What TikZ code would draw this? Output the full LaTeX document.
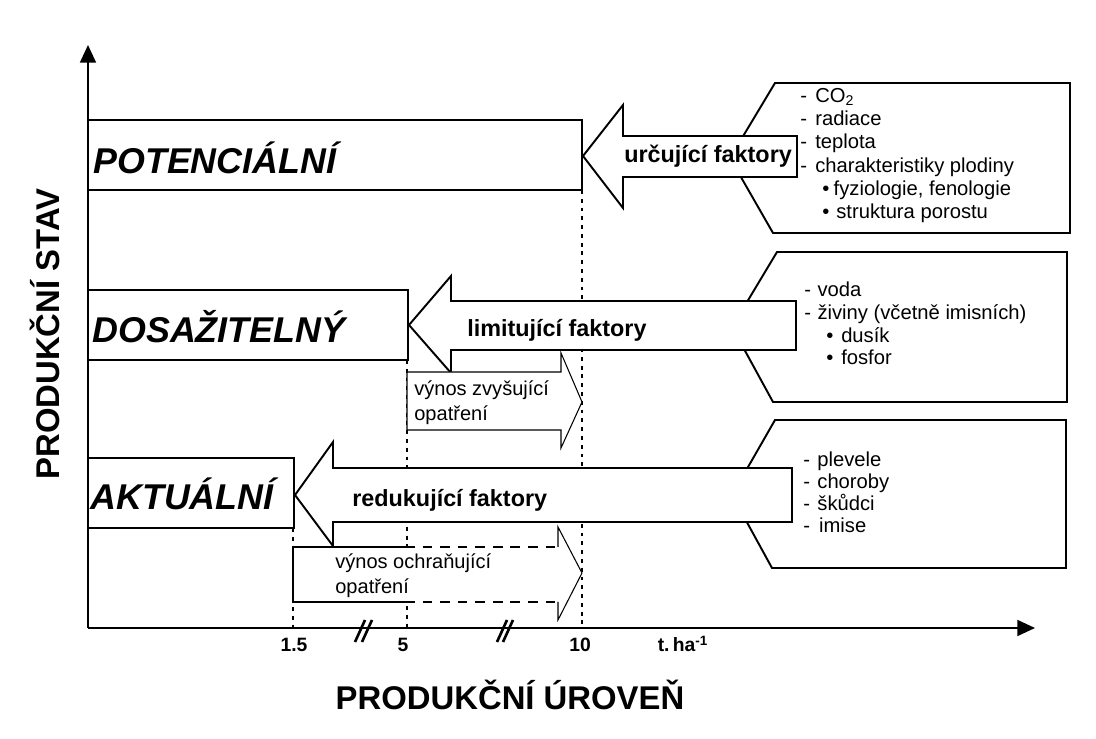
\documentclass[tikz,border=0pt]{standalone}
\usepackage{fontspec}
\setmainfont{Liberation Sans}
\usetikzlibrary{arrows.meta}

\begin{document}
\begin{tikzpicture}
		[x=0.02cm,y=-0.02cm,line join=miter,
		%Styles
		main axis/.style={line width=1.1pt,-{Triangle[length=10pt,width=9pt]}},
		state box/.style={line width=1.1pt,fill=white},
		factor arrow/.style={line width=1.1pt,fill=white},
		yield arrow/.style={line width=0.6pt},
		level line/.style={line width=1.1pt,dash pattern=on 2.2pt off 2.8pt},
		break mark/.style={line width=1.5pt},
		state text/.style={inner sep=0pt,anchor=base west,font=\fontsize{20.4}{24}\selectfont\bfseries\itshape},
		factor text/.style={inner sep=0pt,anchor=base west,font=\fontsize{13.3}{16}\selectfont\bfseries},
		yield text/.style={inner sep=0pt,anchor=north west,align=left,font=\fontsize{11.4}{14.2}\selectfont},
		list text/.style={inner sep=0pt,anchor=north west,align=left,font=\fontsize{11.5}{#1}\selectfont},
		tick text/.style={inner sep=0pt,anchor=base,font=\fontsize{11}{13}\selectfont\bfseries},
		title text/.style={inner sep=0pt,anchor=base,font=\fontsize{18.7}{22}\selectfont\bfseries}
		]
		\useasboundingbox (0,0) rectangle (1096,739);
		
		%Factor lists
		\draw[state box] (730,158) -- (775,83) -- (1070,83) -- (1070,233) -- (773,233) -- cycle;
		\draw[state box] (732,327) -- (777,252) -- (1067,252) -- (1067,402) -- (773,402) -- cycle;
		\draw[state box] (732,495) -- (775,420) -- (1066,420) -- (1066,568) -- (772,568) -- cycle;
		\node[list text=13.2pt] (list1) at (800,88) {\makebox[8.5pt][l]{-}CO\textsubscript{2}\\
			\makebox[8.5pt][l]{-}radiace\\
			\makebox[8.5pt][l]{-}teplota\\
			\makebox[8.5pt][l]{-}charakteristiky plodiny\\
			\hspace*{12.5pt}\makebox[6.5pt][l]{\textbullet}fyziologie, fenologie\\
			\hspace*{12.5pt}\makebox[8pt][l]{\textbullet}struktura porostu};
		\node[list text=12.9pt] (list2) at (804,282) {\makebox[7.5pt][l]{-}voda\\
			\makebox[7.5pt][l]{-}živiny (včetně imisních)\\
			\hspace*{12.5pt}\makebox[8.5pt][l]{\textbullet}dusík\\
			\hspace*{12.5pt}\makebox[8.5pt][l]{\textbullet}fosfor};
		\node[list text=12.4pt] (list3) at (803,452) {\makebox[8pt][l]{-}plevele\\
			\makebox[8pt][l]{-}choroby\\
			\makebox[8pt][l]{-}škůdci\\
			\makebox[9pt][l]{-}imise};
		
		%Production levels
		\draw[level line] (582,190) -- (582,628);
		\draw[level line] (407,360) -- (407,628);
		\draw[level line] (293,528) -- (293,628);
		
		%Factor arrows
		\draw[factor arrow] (583,156) -- (623,105) -- (623,136) -- (797,136) -- (797,177) -- (623,177) -- (623,208) -- cycle;
		\draw[factor arrow] (409,325) -- (451,276) -- (451,301) -- (796,301) -- (796,350) -- (451,350) -- (451,373) -- cycle;
		\draw[factor arrow] (295,495) -- (333,442) -- (333,468) -- (792,468) -- (792,522) -- (333,522) -- (333,546) -- cycle;
		\node[factor text] (urc) at (624,163) {určující faktory};
		\node[factor text] (lim) at (467,337) {limitující faktory};
		\node[factor text] (red) at (352,507) {redukující faktory};
		
		%States
		\draw[state box] (88,120) rectangle (582,190);
		\draw[state box] (88,290) rectangle (408,360);
		\draw[state box] (88,458) rectangle (294,528);
		\node[state text] (pot) at (93,174) {POTENCIÁLNÍ};
		\node[state text] (dos) at (92,343) {DOSAŽITELNÝ};
		\node[state text] (akt) at (90,510) {AKTUÁLNÍ};
		
		%Yield arrows
		\draw[yield arrow,fill=white] (407,372) -- (561,372) -- (561,353) -- (582,402) -- (561,448) -- (561,430) -- (407,430) -- cycle;
		\fill[white] (293,547) -- (558,547) -- (558,527) -- (582,573) -- (558,620) -- (558,602) -- (293,602) -- cycle;
		\draw[yield arrow] (405,547) -- (293,547) -- (293,602) -- (405,602);
		\draw[yield arrow] (558,547) -- (558,527) -- (582,573) -- (558,620) -- (558,602);
		\draw[yield arrow,dash pattern=on 5.5pt off 4.5pt] (405,547) -- (558,547) (405,602) -- (558,602);
		\node[yield text] (vzv) at (414,380) {výnos zvyšující\\opatření};
		\node[yield text] (voch) at (335,553) {výnos ochraňující\\opatření};
		
		%Axes
		\draw[main axis] (88,628) -- (88,45);
		\draw[main axis] (88,628) -- (1035,628);
		\draw[break mark] (355,642) -- (365,620) (362,642) -- (372,620);
		\draw[break mark] (497,642) -- (507,620) (503,642) -- (513,620);
		\node[tick text] (t1) at (294,652) {1.5};
		\node[tick text] (t2) at (403,652) {5};
		\node[tick text] (t3) at (580,652) {10};
		\node[tick text] (unit) at (683,652) {t.\,ha\textsuperscript{-1}};
		\node[title text,rotate=90] (ytitle) at (59,334) {PRODUKČNÍ STAV};
		\node[title text] (xtitle) at (510,710) {PRODUKČNÍ ÚROVEŇ};
	\end{tikzpicture}
\end{document}
